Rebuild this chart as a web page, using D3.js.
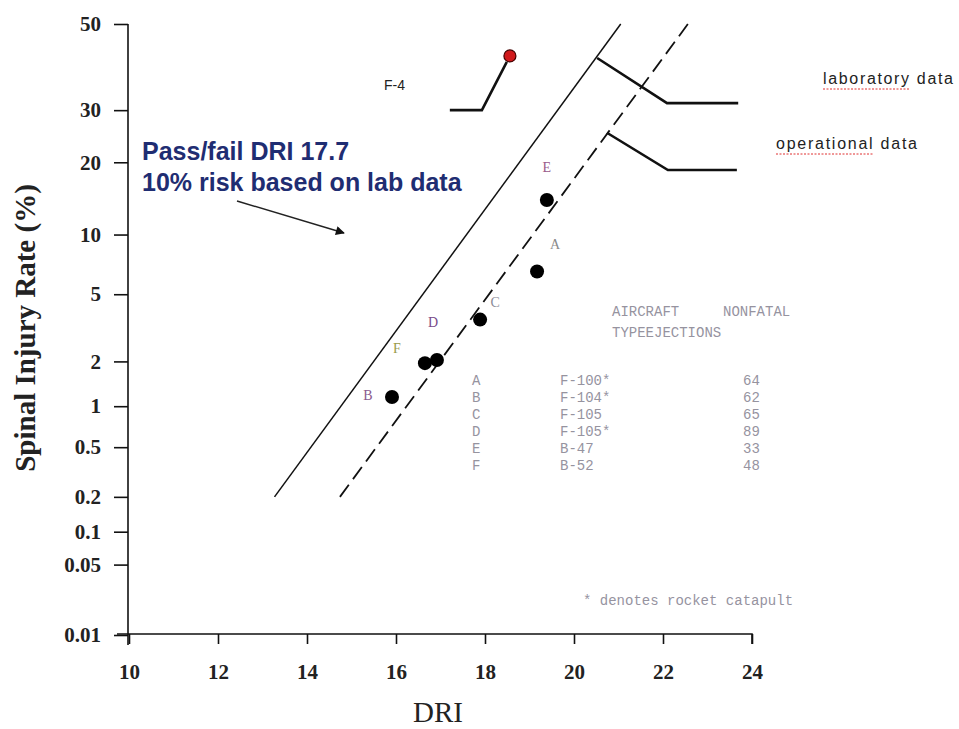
<!DOCTYPE html>
<html>
<head>
	<title></title>
	<style type="text/css">
		body { margin: 0; background: #fff; }
		.viz { display: block; background-color: #fff; }
		.axis path, .axis line { stroke: #111; stroke-width: 1.6; }
		.axis text { font-family: "Liberation Serif", serif; font-weight: bold; font-size: 21px; fill: #222; }
	</style>
</head>
<body>
	<svg class="viz" width="959" height="729"></svg>

	<script src="https://cdnjs.cloudflare.com/ajax/libs/d3/7.8.5/d3.min.js" charset="utf-8"></script>
	<script type="text/javascript">

		// tick values
		var xTicks = [10, 12, 14, 16, 18, 20, 22, 24];
		var yTicks = [50, 30, 20, 10, 5, 2, 1, 0.5, 0.2, 0.1, 0.05, 0.01];
		var yTickLabels = ['50', '30', '20', '10', '5', '2', '1', '0.5', '0.2', '0.1', '0.05', '0.01'];

		// aircraft points (DRI, injury rate %)
		var pointIds = ['A', 'B', 'C', 'D', 'E', 'F'];
		var pointDRI = [19.17, 15.91, 17.89, 16.92, 19.39, 16.65];
		var pointRate = [6.6, 1.16, 3.6, 2.04, 14.2, 1.95];
		var aircraft = ['F-100*', 'F-104*', 'F-105', 'F-105*', 'B-47', 'B-52'];
		var ejections = [64, 62, 65, 89, 33, 48];

		// F-4 point
		var f4DRI = 18.56;
		var f4Rate = 42.3;

		// fitted lines [DRI, rate]
		var labLine = [[13.27, 0.2], [21.05, 50]];
		var opLine = [[14.74, 0.2], [22.56, 50]];
		var labBracket = [[20.52, 41.8], [22.09, 31.5], [23.69, 31.5]];
		var opBracket = [[20.74, 25.4], [22.11, 18.7], [23.66, 18.7]];
		var f4Leader = [[17.21, 30], [17.93, 30], [18.49, 40.9]];

		// label placement around each point (px)
		var labelDx = [18, -24, 15, -4, 0, -28];
		var labelDy = [-27, -2, -18, -38, -33, -15];
		var labelColor = ['#8a8a8a', '#8a5a8e', '#8c8c96', '#7a4a8a', '#9a5a8a', '#9a9a4a'];

		// inverse normal cdf (Acklam) for the probability axis
		var probit = function(p) {
			var a = [-39.69683028665376, 220.9460984245205, -275.9285104469687, 138.3577518672690, -30.66479806614716, 2.506628277459239];
			var b = [-54.47609879822406, 161.5858368580409, -155.6989798598866, 66.80131188771972, -13.28068155288572];
			var c = [-0.007784894002430293, -0.3223964580411365, -2.400758277161838, -2.549732539343734, 4.374664141464968, 2.938163982698783];
			var d = [0.007784695709041462, 0.3224671290700398, 2.445134137142996, 3.754408661907416];
			var q, r;
			if (p < 0.02425) {
				q = Math.sqrt(-2 * Math.log(p));
				return (((((c[0]*q+c[1])*q+c[2])*q+c[3])*q+c[4])*q+c[5]) / ((((d[0]*q+d[1])*q+d[2])*q+d[3])*q+1);
			}
			if (p > 1 - 0.02425) {
				q = Math.sqrt(-2 * Math.log(1 - p));
				return -(((((c[0]*q+c[1])*q+c[2])*q+c[3])*q+c[4])*q+c[5]) / ((((d[0]*q+d[1])*q+d[2])*q+d[3])*q+1);
			}
			q = p - 0.5;
			r = q * q;
			return (((((a[0]*r+a[1])*r+a[2])*r+a[3])*r+a[4])*r+a[5])*q / (((((b[0]*r+b[1])*r+b[2])*r+b[3])*r+b[4])*r+1);
		};

		var canvas = d3.select('.viz');
		var x = d3.scaleLinear().domain([10, 24]).range([129, 752]);
		var yz = d3.scaleLinear().domain([probit(0.0001), probit(0.5)]).range([635, 24]);
		var y = function(rate) { return yz(probit(rate / 100)); };

		var line = d3.line()
			.x(function(d) { return x(d[0]); })
			.y(function(d) { return y(d[1]); });

		// axes
		var xAxis = canvas.append('g')
			.attr('class', 'axis')
			.attr('transform', 'translate(0,634)')
			.call(d3.axisBottom(x).tickValues(xTicks).tickSize(10).tickSizeOuter(0).tickPadding(20));
		xAxis.select('.domain').attr('d', 'M117,0H752V10');

		var yAxis = canvas.append('g')
			.attr('class', 'axis')
			.attr('transform', 'translate(128,0)')
			.call(d3.axisLeft(yz)
				.tickValues(yTicks.map(function(v) { return probit(v / 100); }))
				.tickFormat(function(d, i) { return yTickLabels[i]; })
				.tickSize(14).tickSizeOuter(0).tickPadding(13));
		yAxis.select('.domain').attr('d', 'M0,' + yz(probit(0.5)) + 'V645');

		// axis titles
		canvas.append('text')
			.attr('x', 438).attr('y', 722)
			.attr('text-anchor', 'middle')
			.style('font-family', '"Liberation Serif", serif')
			.style('font-size', '29px')
			.style('fill', '#222')
			.text('DRI');

		canvas.append('text')
			.attr('transform', 'translate(35,328) rotate(-90)')
			.attr('text-anchor', 'middle')
			.style('font-family', '"Liberation Serif", serif')
			.style('font-weight', 'bold')
			.style('font-size', '29px')
			.style('fill', '#222')
			.text('Spinal Injury Rate (%)');

		// fitted lines
		canvas.append('path')
			.datum(labLine)
			.attr('d', line)
			.attr('fill', 'none')
			.attr('stroke', '#111')
			.attr('stroke-width', 1.5);

		canvas.append('path')
			.datum(opLine)
			.attr('d', line)
			.attr('fill', 'none')
			.attr('stroke', '#111')
			.attr('stroke-width', 1.8)
			.attr('stroke-dasharray', '15,7');

		// brackets and F-4 leader
		[labBracket, opBracket, f4Leader].forEach(function(b) {
			canvas.append('path')
				.datum(b)
				.attr('d', line)
				.attr('fill', 'none')
				.attr('stroke', '#111')
				.attr('stroke-width', 2.6);
		});

		// aircraft points
		canvas.selectAll('circle.pt').data(pointIds)
			.enter().append('circle')
				.attr('class', 'pt')
				.attr('cx', function(d, i) { return x(pointDRI[i]); })
				.attr('cy', function(d, i) { return y(pointRate[i]); })
				.attr('r', 7)
				.attr('fill', '#000');

		canvas.selectAll('text.pl').data(pointIds)
			.enter().append('text')
				.attr('class', 'pl')
				.attr('x', function(d, i) { return x(pointDRI[i]) + labelDx[i]; })
				.attr('y', function(d, i) { return y(pointRate[i]) + labelDy[i] + 5; })
				.attr('text-anchor', 'middle')
				.style('font-family', '"Liberation Serif", serif')
				.style('font-size', '14px')
				.style('fill', function(d, i) { return labelColor[i]; })
				.text(function(d) { return d; });

		// F-4 point
		canvas.append('circle')
			.attr('cx', x(f4DRI))
			.attr('cy', y(f4Rate))
			.attr('r', 6)
			.attr('fill', '#d0191b')
			.attr('stroke', '#400')
			.attr('stroke-width', 1.2);

		canvas.append('text')
			.attr('x', 384).attr('y', 90)
			.style('font-family', '"Liberation Sans", Arial, sans-serif')
			.style('font-size', '14px')
			.style('fill', '#222')
			.text('F-4');

		// bracket labels
		var notes = [
			{ t: 'laboratory data', u: 'laboratory', x: 823, y: 84, w: 130 },
			{ t: 'operational data', u: 'operational', x: 776, y: 149, w: 141 }
		];
		notes.forEach(function(n) {
			canvas.append('text')
				.attr('x', n.x).attr('y', n.y)
				.attr('textLength', n.w)
				.attr('lengthAdjust', 'spacing')
				.style('font-family', '"Liberation Sans", Arial, sans-serif')
				.style('font-size', '16px')
				.style('fill', '#222')
				.text(n.t);
			var uw = n.w * n.u.length / n.t.length;
			canvas.append('line')
				.attr('x1', n.x).attr('x2', n.x + uw)
				.attr('y1', n.y + 5).attr('y2', n.y + 5)
				.attr('stroke', '#e03030')
				.attr('stroke-width', 1)
				.attr('stroke-dasharray', '2,1.5');
		});

		// pass/fail note and arrow
		var passNote = ['Pass/fail DRI 17.7', '10% risk based on lab data'];
		canvas.selectAll('text.pass').data(passNote)
			.enter().append('text')
				.attr('class', 'pass')
				.attr('x', 142)
				.attr('y', function(d, i) { return 160 + i * 31; })
				.style('font-family', '"Liberation Sans", Arial, sans-serif')
				.style('font-weight', 'bold')
				.style('font-size', '25px')
				.style('fill', '#1f2d72')
				.text(function(d) { return d; });

		canvas.append('defs').append('marker')
			.attr('id', 'arrow')
			.attr('viewBox', '0 0 10 10')
			.attr('refX', 9).attr('refY', 5)
			.attr('markerWidth', 13).attr('markerHeight', 9)
			.attr('markerUnits', 'userSpaceOnUse')
			.attr('orient', 'auto')
			.append('path')
				.attr('d', 'M0,0L10,5L0,10Z')
				.attr('fill', '#111');
		canvas.append('line')
			.attr('x1', 237).attr('y1', 201)
			.attr('x2', 344).attr('y2', 233)
			.attr('stroke', '#222')
			.attr('stroke-width', 1.5)
			.attr('marker-end', 'url(#arrow)');

		// aircraft table
		var mono = '"Liberation Mono", "Courier New", monospace';
		var tableHead = [
			{ t: 'AIRCRAFT', x: 612, y: 316 },
			{ t: 'NONFATAL', x: 723, y: 316 },
			{ t: 'TYPEEJECTIONS', x: 612, y: 337 }
		];
		canvas.selectAll('text.th').data(tableHead)
			.enter().append('text')
				.attr('class', 'th')
				.attr('x', function(d) { return d.x; })
				.attr('y', function(d) { return d.y; })
				.style('font-family', mono)
				.style('font-size', '14px')
				.style('fill', '#96939f')
				.text(function(d) { return d.t; });

		var rows = canvas.selectAll('g.row').data(pointIds)
			.enter().append('g')
				.attr('class', 'row')
				.attr('transform', function(d, i) { return 'translate(0,' + (385 + i * 17) + ')'; })
				.style('font-family', mono)
				.style('font-size', '14px')
				.style('fill', '#96939f');
		rows.append('text').attr('x', 472).text(function(d) { return d; });
		rows.append('text').attr('x', 560).text(function(d, i) { return aircraft[i]; });
		rows.append('text').attr('x', 743).text(function(d, i) { return ejections[i]; });

		canvas.append('text')
			.attr('x', 583).attr('y', 605)
			.style('font-family', mono)
			.style('font-size', '14px')
			.style('fill', '#96939f')
			.text('* denotes rocket catapult');

	</script>
</body>
</html>
